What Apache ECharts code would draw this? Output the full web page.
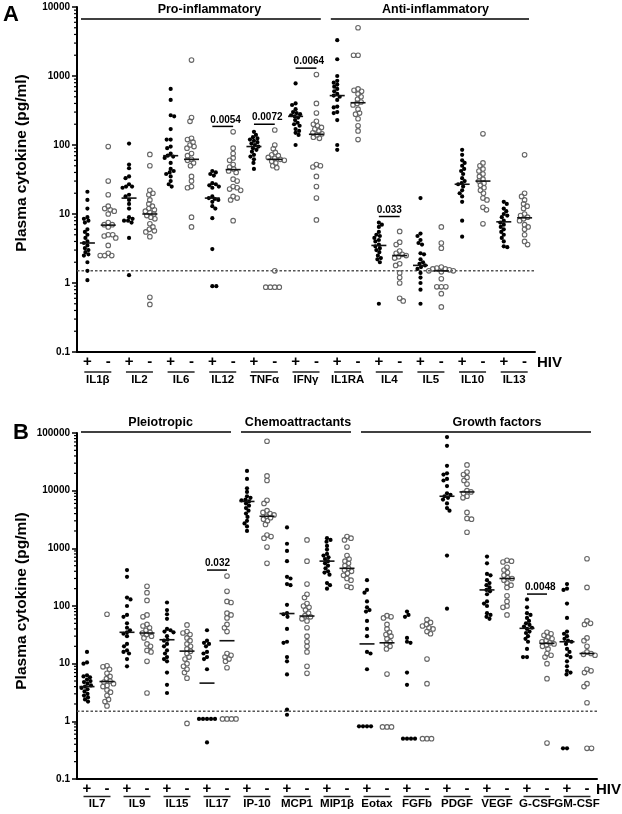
<!DOCTYPE html>
<html><head><meta charset="utf-8">
<script src="https://cdn.jsdelivr.net/npm/echarts@6/dist/echarts.min.js"></script>
<style>html,body{margin:0;padding:0;background:#fff}#c{width:622px;height:814px}</style>
</head><body><div id="c"></div><script>
const FONT = '"Liberation Sans", Arial, sans-serif';

// ---------- Panel A data ----------
const catsA = ['IL1β','IL2','IL6','IL12','TNFα','IFNγ','IL1RA','IL4','IL5','IL10','IL13'];
const IL1b_pos = [21, 16, 12, 9, 8.5, 8, 7.5, 6, 5.5, 5, 4.5, 4, 3.8, 3.5, 3.2, 3, 2.8, 2.6, 2.5, 2, 1.5, 1.1];
const IL1b_neg = [95, 30, 19, 13, 12, 11.5, 11, 10, 7.5, 7, 7, 6.5, 5, 5, 4.8, 4.5, 3.5, 2.7, 2.5, 2.5, 2.5];
const IL2_pos = [105, 52, 46, 35, 33, 27, 25, 25, 24, 19, 18, 16, 14, 12, 9, 8.5, 8, 8, 7.5, 4.5, 1.3];
const IL2_neg = [73, 50, 22, 20, 19, 16, 14, 13, 12, 11.5, 11, 10.5, 10, 9.5, 9, 8.5, 7.2, 6.5, 6, 5.7, 5.5, 4.7, 0.62, 0.49];
const IL6_pos = [650, 450, 270, 260, 170, 120, 120, 95, 90, 75, 70, 68, 65, 55, 45, 42, 40, 38, 35, 30, 27, 25];
const IL6_neg = [1700, 250, 220, 125, 120, 110, 100, 95, 90, 75, 70, 62, 60, 55, 50, 35, 30, 25, 24, 9, 6.5];
const IL12_pos = [42, 40, 38, 36, 28, 27, 26, 25, 24, 18, 17, 16.5, 16, 15, 13, 12, 8.7, 3.1, 0.9, 0.9];
const IL12_neg = [155, 90, 75, 65, 60, 52, 48, 45, 42, 40, 32, 30, 25, 24, 23, 22, 18, 17, 16, 8];
const TNFa_pos = [155, 140, 130, 125, 120, 115, 110, 105, 100, 95, 90, 85, 80, 72, 68, 62, 55, 45];
const TNFa_neg = [165, 100, 88, 78, 72, 70, 66, 64, 62, 60, 58, 55, 50, 47, 1.5, 0.87, 0.87, 0.87, 0.87];
const IFNg_pos = [780, 400, 380, 330, 300, 290, 280, 270, 260, 250, 230, 210, 200, 190, 170, 160, 150, 140, 100];
const IFNg_neg = [1050, 400, 290, 220, 200, 190, 180, 170, 160, 150, 145, 140, 130, 125, 52, 50, 48, 35, 25, 17, 8.2];
const IL1RA_pos = [3300, 1750, 1000, 850, 800, 750, 700, 650, 600, 550, 520, 500, 450, 360, 350, 300, 290, 230, 100, 85];
const IL1RA_neg = [5000, 2000, 2000, 650, 620, 600, 550, 500, 460, 420, 400, 380, 330, 290, 280, 240, 190, 160, 120];
const IL4_pos = [7.5, 7, 6.5, 5.5, 5, 4.8, 4.5, 4.2, 4, 3.6, 3.4, 3.2, 3, 2.8, 2.5, 2.3, 2.2, 2.0, 0.5];
const IL4_neg = [5.6, 3.9, 3.6, 2.9, 2.7, 2.6, 2.5, 2.4, 2.3, 1.9, 1.8, 1.4, 1.2, 1.0, 0.6, 0.55];
const IL5_pos = [17, 5.2, 4.8, 4.2, 3.8, 3.6, 2.7, 2.6, 2.2, 2.0, 1.9, 1.8, 1.7, 1.6, 1.4, 1.2, 1.0, 0.8, 0.5];
const IL5_neg = [6.5, 3.8, 3.2, 1.7, 1.65, 1.6, 1.6, 1.55, 1.5, 1.5, 1.45, 1.15, 0.88, 0.88, 0.88, 0.7, 0.45];
const IL10_pos = [85, 72, 60, 55, 50, 45, 42, 38, 33, 30, 28, 27, 25, 22, 20, 18, 15, 8, 4.7];
const IL10_neg = [145, 55, 50, 45, 42, 38, 35, 32, 30, 28, 26, 24, 22, 20, 17, 16, 12.5, 11.5, 7.2];
const IL13_pos = [15, 14, 12, 11, 10, 9.5, 9, 8, 7.5, 7, 6.5, 6, 5.5, 5, 4.5, 4, 3.4, 3.3];
const IL13_neg = [72, 20, 18, 16, 14, 13, 12, 10, 9.5, 9, 8.5, 8, 7, 6.5, 6, 5, 4, 3.6];
const medA_pos = [3.8, 17, 70, 17, 95, 260, 520, 3.5, 1.8, 27, 7.7];
const medA_neg = [6.9, 10, 62, 44, 62, 143, 410, 2.5, 1.5, 30, 8.8];
const pValuesA = [['0.0054', 3, 186], ['0.0072', 4, 200], ['0.0064', 5, 1300], ['0.033', 7, 9.2]];
const headersA = [['Pro-inflammatory', 0, 5, 5.86], ['Anti-inflammatory', 6, 10, 16.72]];
const ticksA = [0.1, 1, 10, 100, 1000, 10000];

// ---------- Panel B data ----------
const catsB = ['IL7','IL9','IL15','IL17','IP-10','MCP1','MIP1β','Eotax','FGFb','PDGF','VEGF','G-CSF','GM-CSF'];
const IL7_pos = [16, 10.5, 10, 6.3, 6, 5.8, 5.3, 5, 4.8, 4.5, 4.2, 4, 3.8, 3.6, 3.3, 3, 2.8, 2.6, 2.4, 2.2];
const IL7_neg = [72, 9.2, 8.8, 8, 6.8, 6, 5.5, 5, 4.8, 4.5, 4.2, 4, 3.5, 3.2, 2.8, 2.4, 2.2, 1.85];
const IL9_pos = [420, 320, 140, 130, 100, 70, 65, 50, 42, 38, 35, 33, 30, 22, 20, 17, 16, 15, 12, 9];
const IL9_neg = [220, 170, 125, 70, 65, 48, 45, 42, 38, 35, 34, 32, 30, 28, 22, 20, 17, 16, 11, 3.1];
const IL15_pos = [115, 85, 72, 60, 40, 38, 36, 35, 30, 26, 25, 22, 20, 17, 15, 13, 12, 11, 7, 4.3, 3.1];
const IL15_neg = [47, 36, 34, 32, 28, 25, 22, 20, 18, 16.5, 15, 13, 12, 10, 9, 8, 7, 5.6, 0.92];
const IL17_pos = [38, 25, 23, 22, 20, 16, 15, 13, 12, 8, 1.1, 1.1, 1.1, 1.1, 1.1, 0.43];
const IL17_neg = [330, 180, 120, 115, 75, 70, 62, 48, 42, 36, 15, 14, 13, 12, 11, 8.5, 1.1, 1.1, 1.1, 1.1];
const IP10_pos = [22000, 16000, 11000, 9500, 8000, 7500, 7000, 6800, 6500, 6000, 5500, 5000, 4500, 4000, 3500, 3000, 2700, 2400, 2000];
const IP10_neg = [72000, 18000, 15000, 6800, 6000, 4500, 4200, 4000, 3800, 3600, 3400, 3200, 3000, 2600, 1700, 1600, 1500, 1050, 550];
const MCP1_pos = [2300, 1200, 900, 600, 320, 300, 240, 230, 105, 75, 72, 65, 40, 24, 23, 13, 11, 6.5, 1.6, 1.3];
const MCP1_neg = [1400, 600, 240, 160, 140, 110, 100, 95, 85, 75, 68, 65, 60, 55, 42, 30, 24, 20, 16, 9, 6.8];
const MIP1b_pos = [1500, 1400, 1300, 1100, 950, 800, 750, 700, 650, 600, 550, 500, 450, 400, 380, 350, 250, 230, 200];
const MIP1b_neg = [1600, 1500, 1400, 1050, 750, 650, 600, 550, 500, 450, 420, 400, 370, 340, 300, 280, 220, 210];
const Eotax_pos = [280, 190, 170, 120, 95, 85, 80, 55, 40, 30, 16, 15, 8, 0.82, 0.82, 0.82, 0.82];
const Eotax_neg = [68, 65, 62, 48, 40, 35, 32, 30, 27, 24, 22, 20, 18, 6.6, 0.8, 0.8, 0.8];
const FGFb_pos = [80, 70, 65, 28, 24, 23, 7, 4.3, 0.5, 0.5, 0.5, 0.5];
const FGFb_neg = [58, 52, 48, 45, 42, 40, 36, 33, 12, 4.5, 0.5, 0.5, 0.5];
const PDGF_pos = [85000, 60000, 27000, 20000, 19000, 16000, 15000, 12000, 9000, 8500, 8000, 7500, 7000, 6000, 5000, 4500, 750, 90];
const PDGF_neg = [28000, 21000, 19000, 17000, 15000, 13000, 10000, 9500, 9000, 8000, 7500, 4200, 3300, 3200, 1900];
const VEGF_pos = [720, 550, 360, 340, 280, 250, 230, 210, 190, 180, 160, 120, 110, 100, 75, 70, 65, 60];
const VEGF_neg = [620, 600, 580, 470, 420, 380, 340, 310, 300, 280, 250, 230, 210, 150, 120, 100, 95, 70];
const GCSF_pos = [130, 95, 75, 70, 62, 55, 50, 47, 44, 42, 40, 36, 34, 30, 27, 24, 18, 13, 13];
const GCSF_neg = [35, 33, 31, 29, 27, 25, 24, 23, 22, 21, 20, 18, 15, 14, 13, 10, 5.5, 0.42];
const GMCSF_pos = [240, 200, 190, 110, 62, 36, 33, 30, 27, 25, 24, 22, 18, 16, 14, 13, 11, 9, 7.5, 7, 6.5, 0.34, 0.34];
const GMCSF_neg = [660, 210, 55, 50, 48, 28, 25, 20, 16, 15, 14.5, 14, 8, 7.5, 7, 4.5, 4, 2.1, 0.34, 0.34];
const medB_pos = [4.0, 35, 26, 4.6, 6500, 74, 600, 22, null, 8000, 190, 41, 24];
const medB_neg = [4.9, 34, 16.5, 25, 3600, 67, 450, 23, null, 9500, 300, 22.5, 15];
const pValuesB = [['0.032', 3, 420], ['0.0048', 11, 161]];
const headersB = [['Pleiotropic', 0, 3, 3.68], ['Chemoattractants', 4, 6, 10.55], ['Growth factors', 7, 12, 20.5]];
const ticksB = [0.1, 1, 10, 100, 1000, 10000, 100000];

const LOD = 1.5; // dashed detection-limit line value

const cytoA = [[IL1b_pos, IL1b_neg], [IL2_pos, IL2_neg], [IL6_pos, IL6_neg], [IL12_pos, IL12_neg], [TNFa_pos, TNFa_neg],
  [IFNg_pos, IFNg_neg], [IL1RA_pos, IL1RA_neg], [IL4_pos, IL4_neg], [IL5_pos, IL5_neg], [IL10_pos, IL10_neg], [IL13_pos, IL13_neg]];
const cytoB = [[IL7_pos, IL7_neg], [IL9_pos, IL9_neg], [IL15_pos, IL15_neg], [IL17_pos, IL17_neg], [IP10_pos, IP10_neg],
  [MCP1_pos, MCP1_neg], [MIP1b_pos, MIP1b_neg], [Eotax_pos, Eotax_neg], [FGFb_pos, FGFb_neg], [PDGF_pos, PDGF_neg],
  [VEGF_pos, VEGF_neg], [GCSF_pos, GCSF_neg], [GMCSF_pos, GMCSF_neg]];

// ---------- helpers ----------
function swarm(g, diam) {
  g.sort((a, b) => a.y - b.y);
  const placed = [];
  g.forEach((it, n) => {
    let best = 0;
    outer: for (let k = 0; k < 80; k++) {
      const s = k * 0.5;
      const cands = k === 0 ? [0] : (n % 2 ? [s, -s] : [-s, s]);
      for (const dx of cands) {
        if (placed.every(p => (p.dx - dx) ** 2 + (p.y - it.y) ** 2 >= diam * diam)) { best = dx; break outer; }
      }
    }
    it.dx = best; placed.push(it);
  });
}

function pointsSeries(cyto, xi) {
  const data = [];
  cyto.forEach((pair, c) => pair.forEach((arr, s) => arr.forEach(v => data.push([2 * c + s, v, s]))));
  let layout = null;
  return {
    type: 'custom', xAxisIndex: xi, yAxisIndex: xi, data, clip: false, z: 3, silent: true,
    renderItem(params, api) {
      if (!layout) {
        layout = [];
        const groups = {};
        data.forEach((d, i) => {
          const p = api.coord([d[0], d[1]]);
          layout[i] = { x: p[0], y: p[1], dx: 0, s: d[2] };
          (groups[d[0]] = groups[d[0]] || []).push(layout[i]);
        });
        Object.values(groups).forEach(g => swarm(g, g[0].s ? 4.1 : 3.6));
      }
      const L = layout[params.dataIndex];
      if (L.s === 0) return { type: 'circle', shape: { cx: L.x + L.dx, cy: L.y, r: 2.1 }, style: { fill: '#000' } };
      return { type: 'circle', shape: { cx: L.x + L.dx, cy: L.y, r: 2.3 }, style: { fill: 'none', stroke: '#666', lineWidth: 1.1 } };
    }
  };
}

function medianSeries(mPos, mNeg, xi) {
  const data = [];
  mPos.forEach((m, c) => { if (m != null) data.push([2 * c, m]); });
  mNeg.forEach((m, c) => { if (m != null) data.push([2 * c + 1, m]); });
  return {
    type: 'custom', xAxisIndex: xi, yAxisIndex: xi, data, z: 4, silent: true,
    renderItem(params, api) {
      const d = data[params.dataIndex];
      const p = api.coord([d[0], d[1]]);
      return { type: 'line', shape: { x1: p[0] - 7.5, y1: p[1], x2: p[0] + 7.5, y2: p[1] }, style: { stroke: '#111', lineWidth: 1.6 } };
    }
  };
}

function lodSeries(xi) {
  return {
    type: 'custom', xAxisIndex: xi, yAxisIndex: xi, data: [[0, LOD]], z: 2, silent: true, clip: false,
    renderItem(params, api) {
      const cs = params.coordSys;
      const p = api.coord([0, LOD]);
      return { type: 'line', shape: { x1: cs.x, y1: p[1], x2: cs.x + cs.width, y2: p[1] }, style: { stroke: '#555', lineWidth: 1.5, lineDash: [2.5, 2] } };
    }
  };
}

function pSeries(list, xi) {
  return {
    type: 'custom', xAxisIndex: xi, yAxisIndex: xi, data: list.map(p => [2 * p[1], p[2]]), clip: false, z: 5, silent: true,
    renderItem(params, api) {
      const p = list[params.dataIndex];
      const a = api.coord([2 * p[1], p[2]]);
      const b = api.coord([2 * p[1] + 1, p[2]]);
      return { type: 'group', children: [
        { type: 'line', shape: { x1: a[0], y1: a[1], x2: b[0], y2: b[1] }, style: { stroke: '#000', lineWidth: 1.5 } },
        { type: 'text', x: a[0] - 2, y: a[1] - 1.5, style: { text: p[0], fill: '#000', font: 'bold 10px ' + FONT, align: 'left', verticalAlign: 'bottom' } }
      ] };
    }
  };
}

function xAxisCfg(cats, gi) {
  const data = [];
  cats.forEach(() => { data.push('+'); data.push('-'); });
  return {
    type: 'category', gridIndex: gi, data, boundaryGap: true,
    axisLine: { lineStyle: { color: '#000', width: 2 } },
    axisTick: { alignWithLabel: true, length: 5, lineStyle: { color: '#000', width: 1.5 } },
    axisLabel: { fontSize: 15, margin: 2, fontWeight: 'bold', color: '#000', fontFamily: FONT, interval: 0 },
    splitLine: { show: false }
  };
}
function yAxisCfg(gi, ticks) {
  return {
    type: 'log', logBase: 10, gridIndex: gi, min: ticks[0], max: ticks[ticks.length - 1], splitNumber: ticks.length - 1,
    axisLine: { show: true, lineStyle: { color: '#000', width: 2 } },
    axisTick: { show: true, length: 5, lineStyle: { color: '#000', width: 1.5 } },
    axisLabel: { fontSize: 10, margin: 7, fontWeight: 'bold', color: '#000', fontFamily: FONT,
      formatter: v => String(+(+v).toPrecision(3)) },
    splitLine: { show: false }
  };
}

const chart = echarts.init(document.getElementById('c'), null, { renderer: 'canvas' });
chart.setOption({
  animation: false,
  backgroundColor: '#fff',
  grid: [
    { left: 77, top: 7, width: 458, height: 345 },
    { left: 77, top: 433, width: 520, height: 346 }
  ],
  xAxis: [xAxisCfg(catsA, 0), xAxisCfg(catsB, 1)],
  yAxis: [yAxisCfg(0, ticksA), yAxisCfg(1, ticksB)],
  series: [
    lodSeries(0), pointsSeries(cytoA, 0), medianSeries(medA_pos, medA_neg, 0), pSeries(pValuesA, 0),
    lodSeries(1), pointsSeries(cytoB, 1), medianSeries(medB_pos, medB_neg, 1), pSeries(pValuesB, 1)
  ]
});

// ---------- decorations ----------
function T(text, x, y, size, align, rot) {
  const e = { type: 'text', x, y, silent: true, style: { text, font: 'bold ' + size + 'px ' + FONT, fill: '#000', align: align || 'center', verticalAlign: 'middle' } };
  if (rot) e.rotation = rot;
  return e;
}
function Ln(x1, y1, x2, y2, w, c) { return { type: 'line', silent: true, shape: { x1, y1, x2, y2 }, style: { stroke: c || '#000', lineWidth: w || 1.5 } }; }

const G = [];
function panelDecor(xi, cats, headers, ticks, cfg) {
  const x0 = chart.convertToPixel({ xAxisIndex: xi }, 0);
  const band = chart.convertToPixel({ xAxisIndex: xi }, 1) - x0;
  const left = x0 - band / 2;
  cats.forEach((name, c) => {
    const cx = left + (2 * c + 1) * band;
    G.push(Ln(cx - 13.5, cfg.olY, cx + 13.5, cfg.olY, 1.5, '#222'));
    G.push(T(name, cx, cfg.nameY, 11.5));
  });
  headers.forEach(h => {
    const a = left + 2 * h[1] * band + 4, b = left + (2 * h[2] + 2) * band - 6;
    G.push(Ln(a, cfg.hLineY, b, cfg.hLineY, 1.5));
    G.push(T(h[0], left + (h[3] + 0.5) * band, cfg.hTextY, 12.5));
  });
  const ax = left;
  for (let k = 0; k < ticks.length - 1; k++) {
    for (let m = 2; m <= 9; m++) {
      const y = chart.convertToPixel({ yAxisIndex: xi }, m * ticks[k]);
      G.push(Ln(ax - 3, y, ax, y, 1.2));
    }
  }
  G.push(T('HIV', cfg.hivX, cfg.hivY, 15, 'left'));
  G.push(T(cfg.letter, cfg.letX, cfg.letY, 22, 'left'));
  G.push(T('Plasma cytokine (pg/ml)', 22, cfg.titleY, 15.5, 'center', Math.PI / 2));
}
panelDecor(0, catsA, headersA, ticksA, { olY: 372, nameY: 380, hLineY: 19, hTextY: 10, hivX: 537, hivY: 363, letter: 'A', letX: 3, letY: 15, titleY: 163 });
panelDecor(1, catsB, headersB, ticksB, { olY: 796.5, nameY: 803.5, hLineY: 432, hTextY: 423, hivX: 596, hivY: 790, letter: 'B', letX: 13, letY: 433, titleY: 601 });
chart.setOption({ graphic: G });
</script></body></html>
